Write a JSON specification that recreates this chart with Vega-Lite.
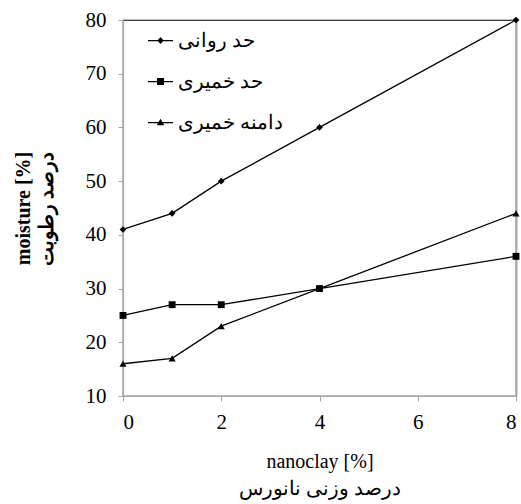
{
  "$schema": "https://vega.github.io/schema/vega-lite/v6.json",
  "autosize": {"type": "none"},
  "width": 393,
  "height": 376,
  "padding": {"left": 123, "top": 20, "right": 5, "bottom": 108},
  "background": "white",
  "config": {
    "view": {"stroke": "#a8a8a8", "strokeWidth": 1.5},
    "font": "Liberation Serif",
    "axis": {
      "domainColor": "#a8a8a8",
      "domainWidth": 1.2,
      "tickColor": "#a8a8a8",
      "tickSize": 5,
      "grid": false,
      "labelFont": "Liberation Serif",
      "labelFontSize": 21,
      "labelColor": "#000",
      "titleFont": "Liberation Serif",
      "titleFontSize": 20,
      "titleFontWeight": "normal",
      "titleColor": "#000"
    }
  },
  "data": {
    "values": [
      {"nanoclay": 0, "moisture": 41, "series": "حد روانی"},
      {"nanoclay": 1, "moisture": 44, "series": "حد روانی"},
      {"nanoclay": 2, "moisture": 50, "series": "حد روانی"},
      {"nanoclay": 4, "moisture": 60, "series": "حد روانی"},
      {"nanoclay": 8, "moisture": 80, "series": "حد روانی"},
      {"nanoclay": 0, "moisture": 25, "series": "حد خمیری"},
      {"nanoclay": 1, "moisture": 27, "series": "حد خمیری"},
      {"nanoclay": 2, "moisture": 27, "series": "حد خمیری"},
      {"nanoclay": 4, "moisture": 30, "series": "حد خمیری"},
      {"nanoclay": 8, "moisture": 36, "series": "حد خمیری"},
      {"nanoclay": 0, "moisture": 16, "series": "دامنه خمیری"},
      {"nanoclay": 1, "moisture": 17, "series": "دامنه خمیری"},
      {"nanoclay": 2, "moisture": 23, "series": "دامنه خمیری"},
      {"nanoclay": 4, "moisture": 30, "series": "دامنه خمیری"},
      {"nanoclay": 8, "moisture": 44, "series": "دامنه خمیری"}
    ]
  },
  "resolve": {"axis": {"x": "independent", "y": "independent"}, "scale": {"shape": "independent", "size": "independent"}},
  "layer": [
    {
      "mark": {"type": "line", "color": "#000", "strokeWidth": 1.3},
      "encoding": {
        "x": {"field": "nanoclay", "type": "quantitative", "scale": {"domain": [0, 8], "nice": false},
              "axis": {"orient": "top", "labels": false, "ticks": false, "title": null, "domainColor": "#404040", "domainWidth": 1}},
        "y": {"field": "moisture", "type": "quantitative", "scale": {"domain": [10, 80], "nice": false},
              "axis": {"orient": "right", "labels": false, "ticks": false, "title": null, "domainColor": "#a8a8a8", "domainWidth": 2}},
        "detail": {"field": "series"}
      }
    },
    {
      "mark": {"type": "point", "filled": true, "opacity": 1, "color": "#000"},
      "encoding": {
        "x": {"field": "nanoclay", "type": "quantitative", "scale": {"domain": [0, 8], "nice": false},
              "axis": {"values": [0, 2, 4, 6, 8], "labelPadding": 10, "title": ["nanoclay [%]", "درصد وزنی نانورس"], "titlePadding": 19, "titleLineHeight": 27}},
        "y": {"field": "moisture", "type": "quantitative", "scale": {"domain": [10, 80], "nice": false},
              "axis": {"values": [10, 20, 30, 40, 50, 60, 70, 80], "labelPadding": 12, "title": ["moisture [%]", "درصد رطوبت"], "titleFontSize": 20, "titleFontWeight": "bold", "titlePadding": 29, "titleLineHeight": 23}},
        "shape": {
          "field": "series", "type": "nominal",
          "scale": {"domain": ["حد روانی", "حد خمیری", "دامنه خمیری"], "range": ["diamond", "square", "triangle-up"]},
          "legend": null
        },
        "size": {
          "field": "series", "type": "nominal",
          "scale": {"domain": ["حد روانی", "حد خمیری", "دامنه خمیری"], "range": [45, 50, 55]},
          "legend": null
        }
      }
    },
    {
      "mark": {"type": "point", "filled": true, "opacity": 0, "color": "#000"},
      "encoding": {
        "x": {"field": "nanoclay", "type": "quantitative", "axis": null},
        "y": {"field": "moisture", "type": "quantitative", "axis": null},
        "shape": {
          "field": "series", "type": "nominal",
          "scale": {"domain": ["حد روانی", "حد خمیری", "دامنه خمیری"],
                    "range": ["M-1,-0.05H1V0.05H-1ZM0,-0.28L0.25,0L0,0.28L-0.25,0Z", "M-1,-0.05H1V0.05H-1ZM-0.28,-0.28H0.28V0.28H-0.28Z", "M-1,-0.05H1V0.05H-1ZM0,-0.3L0.3,0.22H-0.3Z"]},
          "legend": {
            "title": null,
            "orient": "none",
            "legendX": 24,
            "legendY": 7,
            "padding": 0,
            "symbolSize": 625,
            "symbolOpacity": 1,
            "symbolFillColor": "#000",
            "labelFontSize": 20,
            "labelFont": "Liberation Serif",
            "labelColor": "#000",
            "labelAlign": "left",
            "labelOffset": 4,
            "rowPadding": 17
          }
        }
      }
    }
  ]
}
